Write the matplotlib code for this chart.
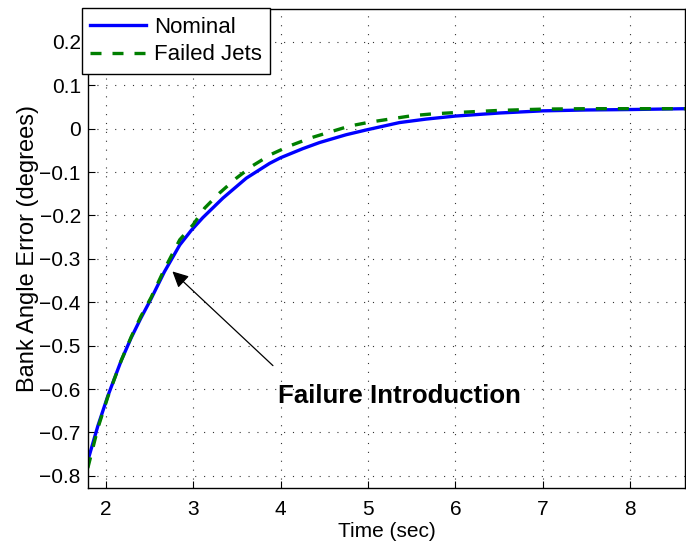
import matplotlib
matplotlib.use("Agg")
import matplotlib.pyplot as plt

plt.rcParams['font.family'] = ['Liberation Sans', 'DejaVu Sans']

# Nominal response
t_nominal = [1.794, 1.909, 2.023, 2.175, 2.29, 2.40, 2.518, 2.67, 2.846, 2.975,
             3.11, 3.34, 3.608, 3.874, 4.0, 4.255, 4.446, 4.75, 4.98, 5.36,
             5.665, 6.0, 6.5, 7.0, 7.5, 8.0, 8.65]
err_nominal = [-0.765, -0.685, -0.616, -0.535, -0.482, -0.437, -0.392, -0.330, -0.268, -0.235,
               -0.205, -0.160, -0.114, -0.080, -0.067, -0.046, -0.032, -0.014, -0.003, 0.014,
               0.022, 0.029, 0.036, 0.041, 0.043, 0.044, 0.046]

# Failed jets response
t_failed = [1.794, 1.909, 2.023, 2.175, 2.29, 2.40, 2.518, 2.67, 2.846, 3.0,
            3.131, 3.303, 3.494, 3.683, 3.894, 4.1, 4.35, 4.56, 4.79, 5.02,
            5.28, 5.51, 5.74, 6.0, 6.5, 7.0, 7.5, 8.0, 8.65]
err_failed = [-0.782, -0.690, -0.618, -0.535, -0.480, -0.433, -0.389, -0.324, -0.256, -0.221,
              -0.183, -0.148, -0.114, -0.085, -0.059, -0.040, -0.021, -0.008, 0.006, 0.015,
              0.023, 0.030, 0.034, 0.037, 0.042, 0.045, 0.046, 0.046, 0.046]

x_ticks = [2, 3, 4, 5, 6, 7, 8]
y_ticks = [-0.8, -0.7, -0.6, -0.5, -0.4, -0.3, -0.2, -0.1, 0, 0.1, 0.2]
y_ticklabels = ['\u22120.8', '\u22120.7', '\u22120.6', '\u22120.5', '\u22120.4', '\u22120.3',
                '\u22120.2', '\u22120.1', '0', '0.1', '0.2']

fig = plt.figure(figsize=(6.86, 5.46), dpi=100)
ax = fig.add_axes([0.128, 0.107, 0.871, 0.876])

ax.plot(t_nominal, err_nominal, color='#0000ff', lw=2.4, label='Nominal')
ax.plot(t_failed, err_failed, color='#007f00', lw=2.4, ls=(0, (3.3, 3.3)), label='Failed Jets')

ax.set_xlim(1.794, 8.63)
ax.set_ylim(-0.827, 0.275)
ax.set_xticks(x_ticks)
ax.set_xticklabels([str(v) for v in x_ticks])
ax.set_yticks(y_ticks)
ax.set_yticklabels(y_ticklabels)
ax.tick_params(direction='in', labelsize=15, length=5, width=0.8, pad=5)
ax.tick_params(axis='x', pad=9)
ax.grid(True, color='#333333', ls=(0, (1, 7)), lw=0.8)
for s in ax.spines.values():
    s.set_linewidth(1.0)

ax.set_xlabel('Time (sec)', fontsize=15, labelpad=2)
ax.set_ylabel('Bank Angle Error (degrees)', fontsize=17, labelpad=0)

ax.annotate('', xy=(2.762, -0.329), xytext=(3.912, -0.546),
            arrowprops=dict(arrowstyle='-|>', color='black', lw=0.9,
                            mutation_scale=24, shrinkA=0, shrinkB=0))
ax.text(3.966, -0.616, 'Failure Introduction', fontsize=18.6, fontweight='bold',
        ha='left', va='center')

leg = fig.legend(loc='upper left', bbox_to_anchor=(0.1196, 0.985), fontsize=16,
                 frameon=True, fancybox=False, edgecolor='black', framealpha=1,
                 borderaxespad=0, handlelength=2.5, handletextpad=0.36,
                 borderpad=0.38, labelspacing=0.3)
leg.get_frame().set_linewidth(1.0)

fig.savefig('out.png', dpi=100)
